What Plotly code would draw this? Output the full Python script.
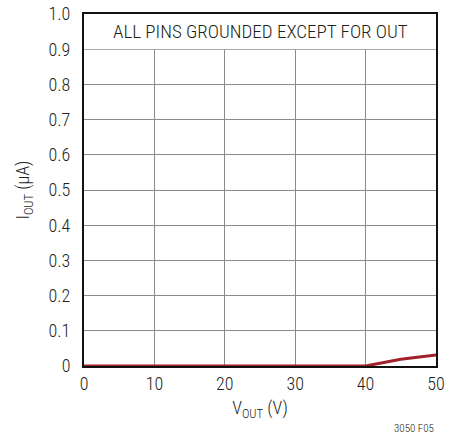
import plotly.graph_objects as go

# Output current vs output voltage
v_out = [0, 5, 10, 15, 20, 25, 30, 35, 40, 45, 50]
i_out = [0, 0, 0, 0, 0, 0, 0, 0, 0, 0.019, 0.031]

x_ticks = [0, 10, 20, 30, 40, 50]
y_ticks = [0, 0.1, 0.2, 0.3, 0.4, 0.5, 0.6, 0.7, 0.8, 0.9, 1.0]
y_tick_text = ["0", "0.1", "0.2", "0.3", "0.4", "0.5", "0.6", "0.7", "0.8", "0.9", "1.0"]

FONT = "Roboto Condensed, Arial Narrow, sans-serif"
INK = "#231f20"

fig = go.Figure()

fig.add_trace(
    go.Scatter(
        x=v_out,
        y=i_out,
        mode="lines",
        line=dict(color="#a3202a", width=3),
        showlegend=False,
        cliponaxis=False,
    )
)

# white band holding the condition note
fig.add_shape(
    type="rect", xref="x", yref="y", x0=0, x1=50, y0=0.9, y1=1.0,
    fillcolor="white", line=dict(width=0), layer="between",
)
fig.add_annotation(
    x=25, y=0.95, xref="x", yref="y", text="ALL PINS GROUNDED EXCEPT FOR OUT",
    showarrow=False, font=dict(family=FONT, size=19, color=INK, weight=300),
)
fig.add_annotation(
    x=1, y=0, xref="paper", yref="paper", xanchor="right", yanchor="middle",
    xshift=0, yshift=-62, text="3050 F05", showarrow=False,
    font=dict(family=FONT, size=11, color=INK, weight=300),
)

fig.update_xaxes(
    range=[0, 50], tickvals=x_ticks, showgrid=True, gridcolor="#8a8a8a", gridwidth=1,
    showline=True, linecolor="#111111", linewidth=2, mirror=True, zeroline=False,
    ticks="", automargin=False, tickfont=dict(family=FONT, size=18, color=INK, weight=300),
    title=dict(text="V<sub>OUT</sub> (V)",
               font=dict(family=FONT, size=18, color=INK, weight=300), standoff=9),
)
fig.update_yaxes(
    range=[0, 1.0], tickvals=y_ticks, ticktext=y_tick_text, showgrid=True,
    gridcolor="#8a8a8a", gridwidth=1, showline=True, linecolor="#111111", linewidth=2,
    mirror=True, zeroline=False, ticks="", ticklabelstandoff=8, automargin=False,
    tickfont=dict(family=FONT, size=18, color=INK, weight=300),
    title=dict(text="I<sub>OUT</sub> (µA)",
               font=dict(family=FONT, size=18, color=INK, weight=300), standoff=14),
)

fig.update_layout(
    width=450,
    height=435,
    margin=dict(l=84, r=14, t=14, b=69),
    plot_bgcolor="white",
    paper_bgcolor="white",
)

# drop the default body margin so the figure sits at the window's corner
fig.write_html(
    "out.html",
    config={"displayModeBar": False},
    post_script="document.body.style.margin='0';",
)
